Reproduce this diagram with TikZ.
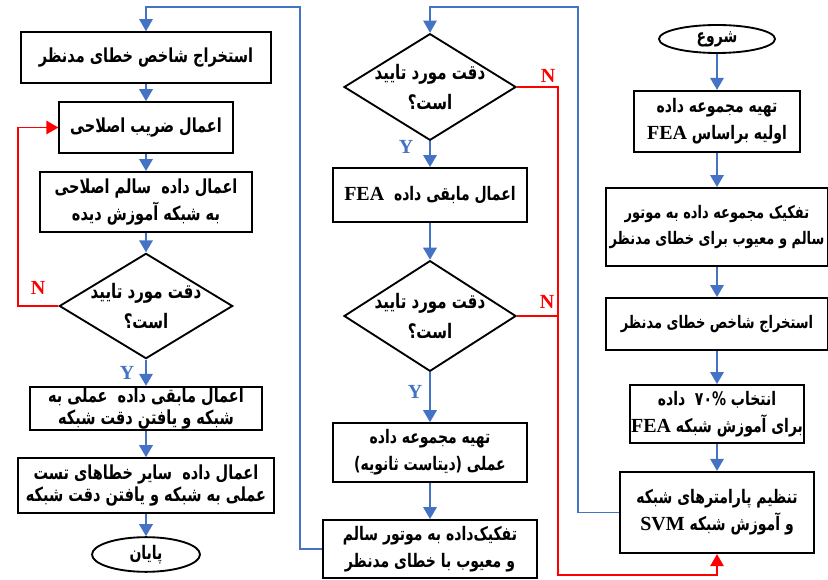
\documentclass[tikz,border=0pt]{standalone}
\usepackage{fontspec}
\setmainfont{Liberation Serif}
\newfontfamily\arabicfont[Script=Arabic, FakeStretch=0.75]{DejaVu Sans}
\TeXXeTstate=1
\usetikzlibrary{shapes.geometric, arrows.meta}
\definecolor{flowBlue}{RGB}{68,114,196}
\newcommand{\fa}[1]{{\arabicfont\bfseries\beginR #1\endR}}
\newcommand{\lat}[1]{\beginL{\rmfamily\bfseries\fontsize{15}{20}\selectfont #1}\endL}

\begin{document}
\begin{tikzpicture}[x=0.75pt, y=-0.75pt,
    box/.style={draw, line width=1.4pt, inner sep=1pt, align=center, font=\fontsize{14}{20}\selectfont},
    lbox/.style={box, font=\fontsize{14.5}{20}\selectfont},
    term/.style={box, ellipse, inner sep=0pt},
    decision/.style={draw, diamond, line width=1.4pt, inner sep=0pt},
    txt/.style={align=center, font=\fontsize{15}{23}\selectfont},
    arrtip/.style={-{Triangle[width=10pt,length=9pt]}},
    arr/.style={draw=flowBlue, line width=1.6pt, arrtip},
    link/.style={draw=flowBlue, line width=1.1pt},
    nlink/.style={draw=red, line width=1.2pt},
    yes/.style={text=flowBlue, font=\fontsize{15}{15}\selectfont\bfseries},
    no/.style={text=red, font=\fontsize{15}{15}\selectfont\bfseries}]
    \useasboundingbox (0,0) rectangle (828,580);

    \node[term, minimum width=87pt, minimum height=21pt] (Start) at (717,39) {\fa{شروع}};
    \node[box, minimum width=125pt, minimum height=46pt] (Prep) at (717,121.5) {\fa{تهیه مجموعه داده}\\ \fa{اولیه براساس \lat{FEA}}};
    \node[box, minimum width=166pt, minimum height=58.5pt, font=\fontsize{13}{20}\selectfont] (Split) at (717,227) {\fa{تفکیک مجموعه داده به موتور}\\ \fa{سالم و معیوب برای خطای مدنظر}};
    \node[box, minimum width=166pt, minimum height=39pt, font=\fontsize{13}{20}\selectfont] (Extract) at (717,324) {\fa{استخراج شاخص خطای مدنظر}};
    \node[box, minimum width=128pt, minimum height=43.5pt] (Select) at (717,414) {\fa{انتخاب \beginL ۷۰\%\endL\ \ داده}\\ \fa{برای آموزش شبکه \lat{FEA}}};
    \node[box, minimum width=145pt, minimum height=61pt] (Train) at (717,512.5) {\fa{تنظیم پارامترهای شبکه}\\ \fa{و آموزش شبکه \lat{SVM}}};

    \node[decision, minimum width=129pt, minimum height=80pt] (Chk1) at (430,87) {};
    \node[txt] (Chk1Txt) at (Chk1) {\fa{دقت مورد تایید}\\ \fa{است؟}};
    \node[box, minimum width=145.5pt, minimum height=40.5pt] (RestFEA) at (430,195) {\fa{اعمال مابقی داده \ \lat{FEA}}};
    \node[decision, minimum width=129pt, minimum height=83pt] (Chk2) at (430,316) {};
    \node[txt] (Chk2Txt) at (Chk2) {\fa{دقت مورد تایید}\\ \fa{است؟}};
    \node[box, minimum width=145.5pt, minimum height=44pt] (Exp) at (430,452.5) {\fa{تهیه مجموعه داده}\\ \fa{عملی (دیتاست ثانویه)}};
    \node[box, minimum width=160.5pt, minimum height=43.5pt] (SplitExp) at (430,549) {\fa{تفکیک‌داده به موتور سالم}\\ \fa{و معیوب با خطای مدنظر}};

    \node[lbox, minimum width=187.5pt, minimum height=38pt] (ExtractL) at (146,57.5) {\fa{استخراج شاخص خطای مدنظر}};
    \node[lbox, minimum width=130pt, minimum height=38pt] (Corr) at (146,127.5) {\fa{اعمال ضریب اصلاحی}};
    \node[lbox, minimum width=159pt, minimum height=45pt] (ApplyCorr) at (146,202) {\fa{اعمال داده \ سالم اصلاحی}\\ \fa{به شبکه آموزش دیده}};
    \node[decision, minimum width=130pt, minimum height=79pt] (Chk3) at (146,306) {};
    \node[txt] (Chk3Txt) at (Chk3) {\fa{دقت مورد تایید}\\ \fa{است؟}};
    \node[lbox, minimum width=174pt, minimum height=32pt, font=\fontsize{14.5}{16}\selectfont] (ApplyRest) at (146,408.5) {\fa{اعمال مابقی داده \ عملی به}\\ \fa{شبکه و یافتن دقت شبکه}};
    \node[lbox, minimum width=192pt, minimum height=41pt, font=\fontsize{14.5}{16}\selectfont] (ApplyOther) at (146,485.5) {\fa{اعمال داده \ سایر خطاهای تست}\\ \fa{عملی به شبکه و یافتن دقت شبکه}};
    \node[term, minimum width=81pt, minimum height=26pt] (End) at (146,554.5) {\fa{پایان}};

    \coordinate (TopR) at (578,7);
    \coordinate (TopL) at (300,7);
    \coordinate (RedR) at (558,575);
    \coordinate (RedL) at (18,306);

    \draw[arr] (Start) -- (Prep);
    \draw[arr] (Prep) -- (Split);
    \draw[arr] (Split) -- (Extract);
    \draw[arr] (Extract) -- (Select);
    \draw[arr] (Select) -- (Train);
    \draw[link, arrtip] (Train.west) -| (TopR) -| (Chk1.north);
    \draw[nlink, arrtip] (Chk1.east) -| (RedR) -| (Train.south);
    \draw[nlink] (Chk2.east) -- (Chk2.east -| RedR);

    \draw[arr] (Chk1) -- (RestFEA);
    \draw[arr] (RestFEA) -- (Chk2);
    \draw[arr] (Chk2) -- (Exp);
    \draw[arr] (Exp) -- (SplitExp);
    \draw[link, arrtip] (SplitExp.west) -| (TopL) -| (ExtractL.north);

    \draw[arr] (ExtractL) -- (Corr);
    \draw[arr] (Corr) -- (ApplyCorr);
    \draw[arr] (ApplyCorr) -- (Chk3);
    \draw[arr] (Chk3) -- (ApplyRest);
    \draw[arr] (ApplyRest) -- (ApplyOther);
    \draw[arr] (ApplyOther) -- (End);
    \draw[nlink, arrtip] (Chk3.west) -- (RedL) |- (Corr.west);

    \node[no] (N1) at (548,76) {N};
    \node[no] (N2) at (547,302) {N};
    \node[no] (N3) at (38,288) {N};
    \node[yes] (Y1) at (406,147) {Y};
    \node[yes] (Y2) at (415,392) {Y};
    \node[yes] (Y3) at (127,373) {Y};
\end{tikzpicture}
\end{document}
